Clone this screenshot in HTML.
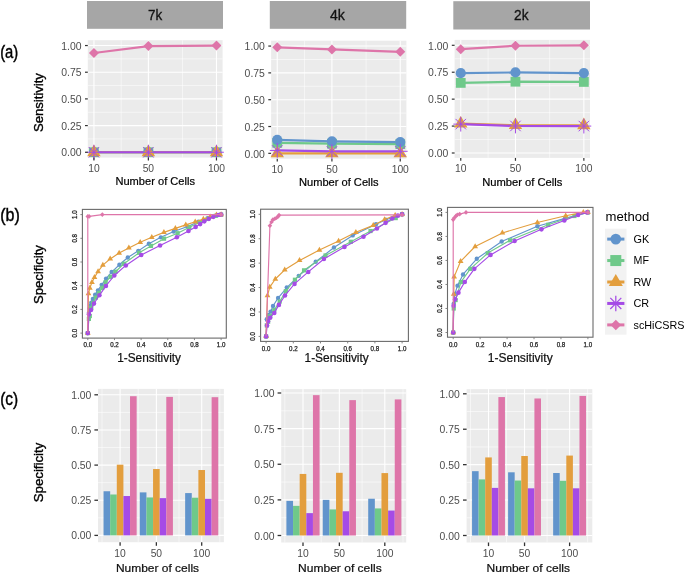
<!DOCTYPE html><html><head><meta charset="utf-8"><style>html,body{margin:0;padding:0;background:#fff;}svg{display:block;will-change:transform;}</style></head><body><svg width="685" height="574" viewBox="0 0 685 574" font-family='"Liberation Sans", sans-serif'>
<rect width="685" height="574" fill="#fff"/>
<text x="0.2" y="57.5" font-size="17.5" fill="#000" text-anchor="start" textLength="18.1" lengthAdjust="spacingAndGlyphs" stroke="#000" stroke-width="0.4" >(a)</text>
<text x="0.2" y="221.1" font-size="17.5" fill="#000" text-anchor="start" textLength="19.6" lengthAdjust="spacingAndGlyphs" stroke="#000" stroke-width="0.4" >(b)</text>
<text x="0.2" y="405.2" font-size="17.5" fill="#000" text-anchor="start" textLength="18" lengthAdjust="spacingAndGlyphs" stroke="#000" stroke-width="0.4" >(c)</text>
<text transform="translate(42.7,132.1) rotate(-90)" font-size="12.4" fill="#000" text-anchor="start" textLength="59" lengthAdjust="spacingAndGlyphs" stroke="#000" stroke-width="0.35">Sensitivity</text>
<text transform="translate(43.4,304.1) rotate(-90)" font-size="12.4" fill="#000" text-anchor="start" textLength="59" lengthAdjust="spacingAndGlyphs" stroke="#000" stroke-width="0.35">Specificity</text>
<text transform="translate(43,502.3) rotate(-90)" font-size="12.4" fill="#000" text-anchor="start" textLength="59.6" lengthAdjust="spacingAndGlyphs" stroke="#000" stroke-width="0.35">Specificity</text>
<rect x="87" y="1" width="136" height="27.8" fill="#a6a6a6"/>
<text x="148.1" y="19.5" font-size="14" fill="#111" text-anchor="start" textLength="14.2" lengthAdjust="spacingAndGlyphs" stroke="#111" stroke-width="0.3" >7k</text>
<rect x="269.8" y="1" width="136.4" height="27.8" fill="#a6a6a6"/>
<text x="329.9" y="19.5" font-size="14" fill="#111" text-anchor="start" textLength="14.9" lengthAdjust="spacingAndGlyphs" stroke="#111" stroke-width="0.3" >4k</text>
<rect x="453.3" y="1.2" width="136.7" height="28.3" fill="#a6a6a6"/>
<text x="514.1" y="19.5" font-size="14" fill="#111" text-anchor="start" textLength="14.5" lengthAdjust="spacingAndGlyphs" stroke="#111" stroke-width="0.3" >2k</text>
<rect x="87.8" y="40.2" width="134.8" height="117.4" fill="#ebebeb"/>
<line x1="87.8" x2="222.6" y1="138.92" y2="138.92" stroke="#fff" stroke-width="0.55"/>
<line x1="87.8" x2="222.6" y1="112.24" y2="112.24" stroke="#fff" stroke-width="0.55"/>
<line x1="87.8" x2="222.6" y1="85.56" y2="85.56" stroke="#fff" stroke-width="0.55"/>
<line x1="87.8" x2="222.6" y1="58.88" y2="58.88" stroke="#fff" stroke-width="0.55"/>
<line y1="40.2" y2="157.6" x1="121.16" x2="121.16" stroke="#fff" stroke-width="0.55"/>
<line y1="40.2" y2="157.6" x1="182.43" x2="182.43" stroke="#fff" stroke-width="0.55"/>
<line x1="87.8" x2="222.6" y1="152.26" y2="152.26" stroke="#fff" stroke-width="1.1"/>
<line x1="87.8" x2="222.6" y1="125.58" y2="125.58" stroke="#fff" stroke-width="1.1"/>
<line x1="87.8" x2="222.6" y1="98.9" y2="98.9" stroke="#fff" stroke-width="1.1"/>
<line x1="87.8" x2="222.6" y1="72.22" y2="72.22" stroke="#fff" stroke-width="1.1"/>
<line x1="87.8" x2="222.6" y1="45.54" y2="45.54" stroke="#fff" stroke-width="1.1"/>
<line y1="40.2" y2="157.6" x1="93.93" x2="93.93" stroke="#fff" stroke-width="1.1"/>
<line y1="40.2" y2="157.6" x1="148.39" x2="148.39" stroke="#fff" stroke-width="1.1"/>
<line y1="40.2" y2="157.6" x1="216.47" x2="216.47" stroke="#fff" stroke-width="1.1"/>
<polyline points="93.93,152.26 148.39,152.26 216.47,152.26" fill="none" stroke="#6FC98A" stroke-width="2.2" stroke-linejoin="round"/>
<polyline points="93.93,152.26 148.39,152.26 216.47,152.26" fill="none" stroke="#6194CC" stroke-width="2.2" stroke-linejoin="round"/>
<polyline points="93.93,152.26 148.39,152.26 216.47,152.26" fill="none" stroke="#E39E3D" stroke-width="2.2" stroke-linejoin="round"/>
<polyline points="93.93,152.26 148.39,152.26 216.47,152.26" fill="none" stroke="#A54BE6" stroke-width="2.2" stroke-linejoin="round"/>
<polyline points="93.93,53.01 148.39,46.07 216.47,45.54" fill="none" stroke="#DE75A9" stroke-width="2.2" stroke-linejoin="round"/>
<rect x="89.03" y="147.36" width="9.8" height="9.8" fill="#6FC98A"/>
<rect x="143.49" y="147.36" width="9.8" height="9.8" fill="#6FC98A"/>
<rect x="211.57" y="147.36" width="9.8" height="9.8" fill="#6FC98A"/>
<circle cx="93.93" cy="152.26" r="5.1" fill="#6194CC"/>
<circle cx="148.39" cy="152.26" r="5.1" fill="#6194CC"/>
<circle cx="216.47" cy="152.26" r="5.1" fill="#6194CC"/>
<path d="M93.93 144.53L100.62 156.13L87.23 156.13Z" fill="#E39E3D"/>
<path d="M148.39 144.53L155.09 156.13L141.69 156.13Z" fill="#E39E3D"/>
<path d="M216.47 144.53L223.17 156.13L209.78 156.13Z" fill="#E39E3D"/>
<path d="M86.53 152.26H101.33M93.93 144.86V159.66M88.69 147.03L99.16 157.5M88.69 157.5L99.16 147.03" stroke="#A54BE6" stroke-width="1" fill="none"/>
<path d="M140.99 152.26H155.79M148.39 144.86V159.66M143.16 147.03L153.62 157.5M143.16 157.5L153.62 147.03" stroke="#A54BE6" stroke-width="1" fill="none"/>
<path d="M209.07 152.26H223.87M216.47 144.86V159.66M211.24 147.03L221.71 157.5M211.24 157.5L221.71 147.03" stroke="#A54BE6" stroke-width="1" fill="none"/>
<path d="M93.93 48.01L98.93 53.01L93.93 58.01L88.93 53.01Z" fill="#DE75A9"/>
<path d="M148.39 41.07L153.39 46.07L148.39 51.07L143.39 46.07Z" fill="#DE75A9"/>
<path d="M216.47 40.54L221.47 45.54L216.47 50.54L211.47 45.54Z" fill="#DE75A9"/>
<line x1="85" x2="87.8" y1="152.26" y2="152.26" stroke="#333333" stroke-width="1.2"/>
<text x="81.6" y="156.46" font-size="10.3" fill="#4d4d4d" text-anchor="end" textLength="20.3" lengthAdjust="spacingAndGlyphs" >0.00</text>
<line x1="85" x2="87.8" y1="125.58" y2="125.58" stroke="#333333" stroke-width="1.2"/>
<text x="81.6" y="129.78" font-size="10.3" fill="#4d4d4d" text-anchor="end" textLength="20.3" lengthAdjust="spacingAndGlyphs" >0.25</text>
<line x1="85" x2="87.8" y1="98.9" y2="98.9" stroke="#333333" stroke-width="1.2"/>
<text x="81.6" y="103.1" font-size="10.3" fill="#4d4d4d" text-anchor="end" textLength="20.3" lengthAdjust="spacingAndGlyphs" >0.50</text>
<line x1="85" x2="87.8" y1="72.22" y2="72.22" stroke="#333333" stroke-width="1.2"/>
<text x="81.6" y="76.42" font-size="10.3" fill="#4d4d4d" text-anchor="end" textLength="20.3" lengthAdjust="spacingAndGlyphs" >0.75</text>
<line x1="85" x2="87.8" y1="45.54" y2="45.54" stroke="#333333" stroke-width="1.2"/>
<text x="81.6" y="49.74" font-size="10.3" fill="#4d4d4d" text-anchor="end" textLength="20.3" lengthAdjust="spacingAndGlyphs" >1.00</text>
<line y1="157.6" y2="160.5" x1="93.93" x2="93.93" stroke="#333333" stroke-width="1.2"/>
<text x="93.93" y="171.9" font-size="10.3" fill="#4d4d4d" text-anchor="middle" >10</text>
<line y1="157.6" y2="160.5" x1="148.39" x2="148.39" stroke="#333333" stroke-width="1.2"/>
<text x="148.39" y="171.9" font-size="10.3" fill="#4d4d4d" text-anchor="middle" >50</text>
<line y1="157.6" y2="160.5" x1="216.47" x2="216.47" stroke="#333333" stroke-width="1.2"/>
<text x="216.47" y="171.9" font-size="10.3" fill="#4d4d4d" text-anchor="middle" >100</text>
<text x="155.2" y="184.9" font-size="11" fill="#000" text-anchor="middle" textLength="79.5" lengthAdjust="spacingAndGlyphs" stroke="#000" stroke-width="0.2" >Number of Cells</text>
<rect x="271.1" y="40.7" width="135.3" height="118" fill="#ebebeb"/>
<line x1="271.1" x2="406.4" y1="139.93" y2="139.93" stroke="#fff" stroke-width="0.55"/>
<line x1="271.1" x2="406.4" y1="113.11" y2="113.11" stroke="#fff" stroke-width="0.55"/>
<line x1="271.1" x2="406.4" y1="86.29" y2="86.29" stroke="#fff" stroke-width="0.55"/>
<line x1="271.1" x2="406.4" y1="59.47" y2="59.47" stroke="#fff" stroke-width="0.55"/>
<line y1="40.7" y2="158.7" x1="304.58" x2="304.58" stroke="#fff" stroke-width="0.55"/>
<line y1="40.7" y2="158.7" x1="366.08" x2="366.08" stroke="#fff" stroke-width="0.55"/>
<line x1="271.1" x2="406.4" y1="153.34" y2="153.34" stroke="#fff" stroke-width="1.1"/>
<line x1="271.1" x2="406.4" y1="126.52" y2="126.52" stroke="#fff" stroke-width="1.1"/>
<line x1="271.1" x2="406.4" y1="99.7" y2="99.7" stroke="#fff" stroke-width="1.1"/>
<line x1="271.1" x2="406.4" y1="72.88" y2="72.88" stroke="#fff" stroke-width="1.1"/>
<line x1="271.1" x2="406.4" y1="46.06" y2="46.06" stroke="#fff" stroke-width="1.1"/>
<line y1="40.7" y2="158.7" x1="277.25" x2="277.25" stroke="#fff" stroke-width="1.1"/>
<line y1="40.7" y2="158.7" x1="331.92" x2="331.92" stroke="#fff" stroke-width="1.1"/>
<line y1="40.7" y2="158.7" x1="400.25" x2="400.25" stroke="#fff" stroke-width="1.1"/>
<polyline points="277.25,142.82 331.92,143.68 400.25,144.11" fill="none" stroke="#6FC98A" stroke-width="2.2" stroke-linejoin="round"/>
<polyline points="277.25,139.93 331.92,141.32 400.25,142.07" fill="none" stroke="#6194CC" stroke-width="2.2" stroke-linejoin="round"/>
<polyline points="277.25,153.34 331.92,153.34 400.25,153.34" fill="none" stroke="#E39E3D" stroke-width="2.2" stroke-linejoin="round"/>
<polyline points="277.25,150.44 331.92,151.41 400.25,151.3" fill="none" stroke="#A54BE6" stroke-width="2.2" stroke-linejoin="round"/>
<polyline points="277.25,47.35 331.92,49.39 400.25,51.86" fill="none" stroke="#DE75A9" stroke-width="2.2" stroke-linejoin="round"/>
<rect x="272.35" y="137.92" width="9.8" height="9.8" fill="#6FC98A"/>
<rect x="327.02" y="138.78" width="9.8" height="9.8" fill="#6FC98A"/>
<rect x="395.35" y="139.21" width="9.8" height="9.8" fill="#6FC98A"/>
<circle cx="277.25" cy="139.93" r="5.1" fill="#6194CC"/>
<circle cx="331.92" cy="141.32" r="5.1" fill="#6194CC"/>
<circle cx="400.25" cy="142.07" r="5.1" fill="#6194CC"/>
<path d="M277.25 145.6L283.95 157.2L270.55 157.2Z" fill="#E39E3D"/>
<path d="M331.92 145.6L338.61 157.2L325.22 157.2Z" fill="#E39E3D"/>
<path d="M400.25 145.6L406.95 157.2L393.55 157.2Z" fill="#E39E3D"/>
<path d="M269.85 150.44H284.65M277.25 143.04V157.84M272.02 145.21L282.48 155.67M272.02 155.67L282.48 145.21" stroke="#A54BE6" stroke-width="1" fill="none"/>
<path d="M324.52 151.41H339.32M331.92 144.01V158.81M326.68 146.17L337.15 156.64M326.68 156.64L337.15 146.17" stroke="#A54BE6" stroke-width="1" fill="none"/>
<path d="M392.85 151.3H407.65M400.25 143.9V158.7M395.02 146.07L405.48 156.53M395.02 156.53L405.48 146.07" stroke="#A54BE6" stroke-width="1" fill="none"/>
<path d="M277.25 42.35L282.25 47.35L277.25 52.35L272.25 47.35Z" fill="#DE75A9"/>
<path d="M331.92 44.39L336.92 49.39L331.92 54.39L326.92 49.39Z" fill="#DE75A9"/>
<path d="M400.25 46.86L405.25 51.86L400.25 56.86L395.25 51.86Z" fill="#DE75A9"/>
<line x1="268.3" x2="271.1" y1="153.34" y2="153.34" stroke="#333333" stroke-width="1.2"/>
<text x="264.9" y="157.54" font-size="10.3" fill="#4d4d4d" text-anchor="end" textLength="20.3" lengthAdjust="spacingAndGlyphs" >0.00</text>
<line x1="268.3" x2="271.1" y1="126.52" y2="126.52" stroke="#333333" stroke-width="1.2"/>
<text x="264.9" y="130.72" font-size="10.3" fill="#4d4d4d" text-anchor="end" textLength="20.3" lengthAdjust="spacingAndGlyphs" >0.25</text>
<line x1="268.3" x2="271.1" y1="99.7" y2="99.7" stroke="#333333" stroke-width="1.2"/>
<text x="264.9" y="103.9" font-size="10.3" fill="#4d4d4d" text-anchor="end" textLength="20.3" lengthAdjust="spacingAndGlyphs" >0.50</text>
<line x1="268.3" x2="271.1" y1="72.88" y2="72.88" stroke="#333333" stroke-width="1.2"/>
<text x="264.9" y="77.08" font-size="10.3" fill="#4d4d4d" text-anchor="end" textLength="20.3" lengthAdjust="spacingAndGlyphs" >0.75</text>
<line x1="268.3" x2="271.1" y1="46.06" y2="46.06" stroke="#333333" stroke-width="1.2"/>
<text x="264.9" y="50.26" font-size="10.3" fill="#4d4d4d" text-anchor="end" textLength="20.3" lengthAdjust="spacingAndGlyphs" >1.00</text>
<line y1="158.7" y2="161.6" x1="277.25" x2="277.25" stroke="#333333" stroke-width="1.2"/>
<text x="277.25" y="173" font-size="10.3" fill="#4d4d4d" text-anchor="middle" >10</text>
<line y1="158.7" y2="161.6" x1="331.92" x2="331.92" stroke="#333333" stroke-width="1.2"/>
<text x="331.92" y="173" font-size="10.3" fill="#4d4d4d" text-anchor="middle" >50</text>
<line y1="158.7" y2="161.6" x1="400.25" x2="400.25" stroke="#333333" stroke-width="1.2"/>
<text x="400.25" y="173" font-size="10.3" fill="#4d4d4d" text-anchor="middle" >100</text>
<text x="338.75" y="185.9" font-size="11" fill="#000" text-anchor="middle" textLength="79.6" lengthAdjust="spacingAndGlyphs" stroke="#000" stroke-width="0.2" >Number of Cells</text>
<rect x="454.6" y="39.9" width="135.4" height="118" fill="#ebebeb"/>
<line x1="454.6" x2="590" y1="139.54" y2="139.54" stroke="#fff" stroke-width="0.55"/>
<line x1="454.6" x2="590" y1="112.61" y2="112.61" stroke="#fff" stroke-width="0.55"/>
<line x1="454.6" x2="590" y1="85.69" y2="85.69" stroke="#fff" stroke-width="0.55"/>
<line x1="454.6" x2="590" y1="58.76" y2="58.76" stroke="#fff" stroke-width="0.55"/>
<line y1="39.9" y2="157.9" x1="488.11" x2="488.11" stroke="#fff" stroke-width="0.55"/>
<line y1="39.9" y2="157.9" x1="549.65" x2="549.65" stroke="#fff" stroke-width="0.55"/>
<line x1="454.6" x2="590" y1="153" y2="153" stroke="#fff" stroke-width="1.1"/>
<line x1="454.6" x2="590" y1="126.08" y2="126.08" stroke="#fff" stroke-width="1.1"/>
<line x1="454.6" x2="590" y1="99.15" y2="99.15" stroke="#fff" stroke-width="1.1"/>
<line x1="454.6" x2="590" y1="72.22" y2="72.22" stroke="#fff" stroke-width="1.1"/>
<line x1="454.6" x2="590" y1="45.3" y2="45.3" stroke="#fff" stroke-width="1.1"/>
<line y1="39.9" y2="157.9" x1="460.75" x2="460.75" stroke="#fff" stroke-width="1.1"/>
<line y1="39.9" y2="157.9" x1="515.46" x2="515.46" stroke="#fff" stroke-width="1.1"/>
<line y1="39.9" y2="157.9" x1="583.85" x2="583.85" stroke="#fff" stroke-width="1.1"/>
<polyline points="460.75,82.89 515.46,81.7 583.85,81.92" fill="none" stroke="#6FC98A" stroke-width="2.2" stroke-linejoin="round"/>
<polyline points="460.75,73.09 515.46,72.44 583.85,73.09" fill="none" stroke="#6194CC" stroke-width="2.2" stroke-linejoin="round"/>
<polyline points="460.75,123.71 515.46,125.21 583.85,125.32" fill="none" stroke="#E39E3D" stroke-width="2.2" stroke-linejoin="round"/>
<polyline points="460.75,124.14 515.46,125.97 583.85,126.08" fill="none" stroke="#A54BE6" stroke-width="2.2" stroke-linejoin="round"/>
<polyline points="460.75,49.18 515.46,45.73 583.85,45.3" fill="none" stroke="#DE75A9" stroke-width="2.2" stroke-linejoin="round"/>
<rect x="455.85" y="77.99" width="9.8" height="9.8" fill="#6FC98A"/>
<rect x="510.56" y="76.8" width="9.8" height="9.8" fill="#6FC98A"/>
<rect x="578.95" y="77.02" width="9.8" height="9.8" fill="#6FC98A"/>
<circle cx="460.75" cy="73.09" r="5.1" fill="#6194CC"/>
<circle cx="515.46" cy="72.44" r="5.1" fill="#6194CC"/>
<circle cx="583.85" cy="73.09" r="5.1" fill="#6194CC"/>
<path d="M460.75 115.97L467.45 127.57L454.06 127.57Z" fill="#E39E3D"/>
<path d="M515.46 117.48L522.16 129.08L508.76 129.08Z" fill="#E39E3D"/>
<path d="M583.85 117.59L590.54 129.19L577.15 129.19Z" fill="#E39E3D"/>
<path d="M453.35 124.14H468.15M460.75 116.74V131.54M455.52 118.9L465.99 129.37M455.52 129.37L465.99 118.9" stroke="#A54BE6" stroke-width="1" fill="none"/>
<path d="M508.06 125.97H522.86M515.46 118.57V133.37M510.23 120.73L520.69 131.2M510.23 131.2L520.69 120.73" stroke="#A54BE6" stroke-width="1" fill="none"/>
<path d="M576.45 126.08H591.25M583.85 118.67V133.47M578.61 120.84L589.08 131.31M578.61 131.31L589.08 120.84" stroke="#A54BE6" stroke-width="1" fill="none"/>
<path d="M460.75 44.18L465.75 49.18L460.75 54.18L455.75 49.18Z" fill="#DE75A9"/>
<path d="M515.46 40.73L520.46 45.73L515.46 50.73L510.46 45.73Z" fill="#DE75A9"/>
<path d="M583.85 40.3L588.85 45.3L583.85 50.3L578.85 45.3Z" fill="#DE75A9"/>
<line x1="451.8" x2="454.6" y1="153" y2="153" stroke="#333333" stroke-width="1.2"/>
<text x="448.4" y="157.2" font-size="10.3" fill="#4d4d4d" text-anchor="end" textLength="20.3" lengthAdjust="spacingAndGlyphs" >0.00</text>
<line x1="451.8" x2="454.6" y1="126.08" y2="126.08" stroke="#333333" stroke-width="1.2"/>
<text x="448.4" y="130.28" font-size="10.3" fill="#4d4d4d" text-anchor="end" textLength="20.3" lengthAdjust="spacingAndGlyphs" >0.25</text>
<line x1="451.8" x2="454.6" y1="99.15" y2="99.15" stroke="#333333" stroke-width="1.2"/>
<text x="448.4" y="103.35" font-size="10.3" fill="#4d4d4d" text-anchor="end" textLength="20.3" lengthAdjust="spacingAndGlyphs" >0.50</text>
<line x1="451.8" x2="454.6" y1="72.22" y2="72.22" stroke="#333333" stroke-width="1.2"/>
<text x="448.4" y="76.42" font-size="10.3" fill="#4d4d4d" text-anchor="end" textLength="20.3" lengthAdjust="spacingAndGlyphs" >0.75</text>
<line x1="451.8" x2="454.6" y1="45.3" y2="45.3" stroke="#333333" stroke-width="1.2"/>
<text x="448.4" y="49.5" font-size="10.3" fill="#4d4d4d" text-anchor="end" textLength="20.3" lengthAdjust="spacingAndGlyphs" >1.00</text>
<line y1="157.9" y2="160.8" x1="460.75" x2="460.75" stroke="#333333" stroke-width="1.2"/>
<text x="460.75" y="172.2" font-size="10.3" fill="#4d4d4d" text-anchor="middle" >10</text>
<line y1="157.9" y2="160.8" x1="515.46" x2="515.46" stroke="#333333" stroke-width="1.2"/>
<text x="515.46" y="172.2" font-size="10.3" fill="#4d4d4d" text-anchor="middle" >50</text>
<line y1="157.9" y2="160.8" x1="583.85" x2="583.85" stroke="#333333" stroke-width="1.2"/>
<text x="583.85" y="172.2" font-size="10.3" fill="#4d4d4d" text-anchor="middle" >100</text>
<text x="522.3" y="185.6" font-size="11" fill="#000" text-anchor="middle" textLength="80.2" lengthAdjust="spacingAndGlyphs" stroke="#000" stroke-width="0.2" >Number of Cells</text>
<polyline points="87.8,333.1 88.87,312.96 89.67,308.81 90.47,305.61 91.27,302.76 92.87,298.97 95.13,294.71 97.93,290.44 101.66,284.87 106.06,278.59 111.66,272.07 119.39,264.73 127.79,257.5 138.32,250.86 148.85,243.75 160.85,237.35 173.78,231.43 187.64,226.45 198.44,221.71 207.77,218.16 215.77,215.78 221.1,214.6" fill="none" stroke="#6194CC" stroke-width="1.15" stroke-linejoin="round"/>
<circle cx="87.8" cy="333.1" r="2.2" fill="#6194CC"/>
<circle cx="88.87" cy="312.96" r="2.2" fill="#6194CC"/>
<circle cx="89.67" cy="308.81" r="2.2" fill="#6194CC"/>
<circle cx="90.47" cy="305.61" r="2.2" fill="#6194CC"/>
<circle cx="91.27" cy="302.76" r="2.2" fill="#6194CC"/>
<circle cx="92.87" cy="298.97" r="2.2" fill="#6194CC"/>
<circle cx="95.13" cy="294.71" r="2.2" fill="#6194CC"/>
<circle cx="97.93" cy="290.44" r="2.2" fill="#6194CC"/>
<circle cx="101.66" cy="284.87" r="2.2" fill="#6194CC"/>
<circle cx="106.06" cy="278.59" r="2.2" fill="#6194CC"/>
<circle cx="111.66" cy="272.07" r="2.2" fill="#6194CC"/>
<circle cx="119.39" cy="264.73" r="2.2" fill="#6194CC"/>
<circle cx="127.79" cy="257.5" r="2.2" fill="#6194CC"/>
<circle cx="138.32" cy="250.86" r="2.2" fill="#6194CC"/>
<circle cx="148.85" cy="243.75" r="2.2" fill="#6194CC"/>
<circle cx="160.85" cy="237.35" r="2.2" fill="#6194CC"/>
<circle cx="173.78" cy="231.43" r="2.2" fill="#6194CC"/>
<circle cx="187.64" cy="226.45" r="2.2" fill="#6194CC"/>
<circle cx="198.44" cy="221.71" r="2.2" fill="#6194CC"/>
<circle cx="207.77" cy="218.16" r="2.2" fill="#6194CC"/>
<circle cx="215.77" cy="215.78" r="2.2" fill="#6194CC"/>
<circle cx="221.1" cy="214.6" r="2.2" fill="#6194CC"/>
<polyline points="87.8,333.1 88.87,318.88 89.8,316.04 91.27,307.86 93.13,302.88 95.93,297.55 98.86,292.81 102.2,287.83 105.66,282.14 110.46,276.81 115.53,271.72 123.79,263.78 139.12,252.76 150.98,245.88 164.05,238.66 177.64,233.2 189.37,227.16 199.77,222.3 207.77,218.75 215.77,215.78 221.1,214.6" fill="none" stroke="#6FC98A" stroke-width="1.15" stroke-linejoin="round"/>
<rect x="85.7" y="331" width="4.2" height="4.2" fill="#6FC98A"/>
<rect x="86.77" y="316.78" width="4.2" height="4.2" fill="#6FC98A"/>
<rect x="87.7" y="313.94" width="4.2" height="4.2" fill="#6FC98A"/>
<rect x="89.17" y="305.76" width="4.2" height="4.2" fill="#6FC98A"/>
<rect x="91.03" y="300.78" width="4.2" height="4.2" fill="#6FC98A"/>
<rect x="93.83" y="295.45" width="4.2" height="4.2" fill="#6FC98A"/>
<rect x="96.76" y="290.71" width="4.2" height="4.2" fill="#6FC98A"/>
<rect x="100.1" y="285.73" width="4.2" height="4.2" fill="#6FC98A"/>
<rect x="103.56" y="280.04" width="4.2" height="4.2" fill="#6FC98A"/>
<rect x="108.36" y="274.71" width="4.2" height="4.2" fill="#6FC98A"/>
<rect x="113.43" y="269.62" width="4.2" height="4.2" fill="#6FC98A"/>
<rect x="121.69" y="261.68" width="4.2" height="4.2" fill="#6FC98A"/>
<rect x="137.02" y="250.66" width="4.2" height="4.2" fill="#6FC98A"/>
<rect x="148.88" y="243.78" width="4.2" height="4.2" fill="#6FC98A"/>
<rect x="161.95" y="236.56" width="4.2" height="4.2" fill="#6FC98A"/>
<rect x="175.54" y="231.1" width="4.2" height="4.2" fill="#6FC98A"/>
<rect x="187.27" y="225.06" width="4.2" height="4.2" fill="#6FC98A"/>
<rect x="197.67" y="220.2" width="4.2" height="4.2" fill="#6FC98A"/>
<rect x="205.67" y="216.65" width="4.2" height="4.2" fill="#6FC98A"/>
<rect x="213.67" y="213.69" width="4.2" height="4.2" fill="#6FC98A"/>
<rect x="219" y="212.5" width="4.2" height="4.2" fill="#6FC98A"/>
<polyline points="87.8,333.1 88.47,293.64 89.8,288.19 91.93,282.38 94.47,277.41 98.06,271.48 102.86,265.08 110.19,258.92 119.13,252.99 128.86,247.9 140.19,242.21 151.78,237.23 163.91,232.38 175.38,228.35 185.78,224.91 195.24,221.71 203.37,218.98 210.17,216.85 216.43,214.96 221.1,214.6" fill="none" stroke="#E39E3D" stroke-width="1.15" stroke-linejoin="round"/>
<path d="M87.8 329.77L90.69 334.77L84.91 334.77Z" fill="#E39E3D"/>
<path d="M88.47 290.31L91.35 295.31L85.58 295.31Z" fill="#E39E3D"/>
<path d="M89.8 284.86L92.69 289.86L86.91 289.86Z" fill="#E39E3D"/>
<path d="M91.93 279.05L94.82 284.05L89.05 284.05Z" fill="#E39E3D"/>
<path d="M94.47 274.07L97.35 279.07L91.58 279.07Z" fill="#E39E3D"/>
<path d="M98.06 268.15L100.95 273.15L95.18 273.15Z" fill="#E39E3D"/>
<path d="M102.86 261.75L105.75 266.75L99.98 266.75Z" fill="#E39E3D"/>
<path d="M110.19 255.59L113.08 260.59L107.31 260.59Z" fill="#E39E3D"/>
<path d="M119.13 249.66L122.01 254.66L116.24 254.66Z" fill="#E39E3D"/>
<path d="M128.86 244.57L131.74 249.57L125.97 249.57Z" fill="#E39E3D"/>
<path d="M140.19 238.88L143.07 243.88L137.3 243.88Z" fill="#E39E3D"/>
<path d="M151.78 233.9L154.67 238.9L148.9 238.9Z" fill="#E39E3D"/>
<path d="M163.91 229.04L166.8 234.04L161.03 234.04Z" fill="#E39E3D"/>
<path d="M175.38 225.01L178.26 230.01L172.49 230.01Z" fill="#E39E3D"/>
<path d="M185.78 221.58L188.66 226.58L182.89 226.58Z" fill="#E39E3D"/>
<path d="M195.24 218.38L198.13 223.38L192.35 223.38Z" fill="#E39E3D"/>
<path d="M203.37 215.65L206.26 220.65L200.48 220.65Z" fill="#E39E3D"/>
<path d="M210.17 213.52L213.06 218.52L207.28 218.52Z" fill="#E39E3D"/>
<path d="M216.43 211.62L219.32 216.62L213.55 216.62Z" fill="#E39E3D"/>
<path d="M221.1 211.27L223.99 216.27L218.21 216.27Z" fill="#E39E3D"/>
<polyline points="87.8,333.1 89,314.26 91,309.99 93.93,303.59 99.4,295.3 105.93,285.94 114.33,275.51 125.79,265.44 141.25,255.01 160.05,245.53 176.84,237.23 188.44,231.07 195.64,226.92 200.17,224.08 204.3,221.35 208.84,218.87 213.37,216.85 218.17,214.96 221.1,214.6" fill="none" stroke="#A54BE6" stroke-width="1.15" stroke-linejoin="round"/>
<circle cx="87.8" cy="333.1" r="2.3" fill="#A54BE6"/>
<circle cx="89" cy="314.26" r="2.3" fill="#A54BE6"/>
<circle cx="91" cy="309.99" r="2.3" fill="#A54BE6"/>
<circle cx="93.93" cy="303.59" r="2.3" fill="#A54BE6"/>
<circle cx="99.4" cy="295.3" r="2.3" fill="#A54BE6"/>
<circle cx="105.93" cy="285.94" r="2.3" fill="#A54BE6"/>
<circle cx="114.33" cy="275.51" r="2.3" fill="#A54BE6"/>
<circle cx="125.79" cy="265.44" r="2.3" fill="#A54BE6"/>
<circle cx="141.25" cy="255.01" r="2.3" fill="#A54BE6"/>
<circle cx="160.05" cy="245.53" r="2.3" fill="#A54BE6"/>
<circle cx="176.84" cy="237.23" r="2.3" fill="#A54BE6"/>
<circle cx="188.44" cy="231.07" r="2.3" fill="#A54BE6"/>
<circle cx="195.64" cy="226.92" r="2.3" fill="#A54BE6"/>
<circle cx="200.17" cy="224.08" r="2.3" fill="#A54BE6"/>
<circle cx="204.3" cy="221.35" r="2.3" fill="#A54BE6"/>
<circle cx="208.84" cy="218.87" r="2.3" fill="#A54BE6"/>
<circle cx="213.37" cy="216.85" r="2.3" fill="#A54BE6"/>
<circle cx="218.17" cy="214.96" r="2.3" fill="#A54BE6"/>
<circle cx="221.1" cy="214.6" r="2.3" fill="#A54BE6"/>
<polyline points="87.8,333.1 87.8,216.38 89.13,216.38 102.33,214.6 221.1,214.6" fill="none" stroke="#DE75A9" stroke-width="1.15" stroke-linejoin="round"/>
<path d="M87.8 214.08L90.1 216.38L87.8 218.68L85.5 216.38Z" fill="#DE75A9"/>
<path d="M89.13 214.08L91.43 216.38L89.13 218.68L86.83 216.38Z" fill="#DE75A9"/>
<path d="M102.33 212.3L104.63 214.6L102.33 216.9L100.03 214.6Z" fill="#DE75A9"/>
<path d="M221.1 212.3L223.4 214.6L221.1 216.9L218.8 214.6Z" fill="#DE75A9"/>
<rect x="82.4" y="209.4" width="143.9" height="128.7" fill="none" stroke="#6a6a6a" stroke-width="1.1"/>
<line x1="87.8" x2="87.8" y1="338.1" y2="340.1" stroke="#777" stroke-width="0.9"/>
<text x="87.8" y="347.3" font-size="6.4" fill="#222" text-anchor="middle" textLength="8.6" lengthAdjust="spacingAndGlyphs" stroke="#222" stroke-width="0.25" >0.0</text>
<line x1="80.4" x2="82.4" y1="333.1" y2="333.1" stroke="#777" stroke-width="0.9"/>
<text transform="translate(76.8,333.1) rotate(-90)" font-size="6.6" fill="#222" text-anchor="middle" textLength="8.6" lengthAdjust="spacingAndGlyphs" stroke="#222" stroke-width="0.25">0.0</text>
<line x1="114.46" x2="114.46" y1="338.1" y2="340.1" stroke="#777" stroke-width="0.9"/>
<text x="114.46" y="347.3" font-size="6.4" fill="#222" text-anchor="middle" textLength="8.6" lengthAdjust="spacingAndGlyphs" stroke="#222" stroke-width="0.25" >0.2</text>
<line x1="80.4" x2="82.4" y1="309.4" y2="309.4" stroke="#777" stroke-width="0.9"/>
<text transform="translate(76.8,309.4) rotate(-90)" font-size="6.6" fill="#222" text-anchor="middle" textLength="8.6" lengthAdjust="spacingAndGlyphs" stroke="#222" stroke-width="0.25">0.2</text>
<line x1="141.12" x2="141.12" y1="338.1" y2="340.1" stroke="#777" stroke-width="0.9"/>
<text x="141.12" y="347.3" font-size="6.4" fill="#222" text-anchor="middle" textLength="8.6" lengthAdjust="spacingAndGlyphs" stroke="#222" stroke-width="0.25" >0.4</text>
<line x1="80.4" x2="82.4" y1="285.7" y2="285.7" stroke="#777" stroke-width="0.9"/>
<text transform="translate(76.8,285.7) rotate(-90)" font-size="6.6" fill="#222" text-anchor="middle" textLength="8.6" lengthAdjust="spacingAndGlyphs" stroke="#222" stroke-width="0.25">0.4</text>
<line x1="167.78" x2="167.78" y1="338.1" y2="340.1" stroke="#777" stroke-width="0.9"/>
<text x="167.78" y="347.3" font-size="6.4" fill="#222" text-anchor="middle" textLength="8.6" lengthAdjust="spacingAndGlyphs" stroke="#222" stroke-width="0.25" >0.6</text>
<line x1="80.4" x2="82.4" y1="262" y2="262" stroke="#777" stroke-width="0.9"/>
<text transform="translate(76.8,262) rotate(-90)" font-size="6.6" fill="#222" text-anchor="middle" textLength="8.6" lengthAdjust="spacingAndGlyphs" stroke="#222" stroke-width="0.25">0.6</text>
<line x1="194.44" x2="194.44" y1="338.1" y2="340.1" stroke="#777" stroke-width="0.9"/>
<text x="194.44" y="347.3" font-size="6.4" fill="#222" text-anchor="middle" textLength="8.6" lengthAdjust="spacingAndGlyphs" stroke="#222" stroke-width="0.25" >0.8</text>
<line x1="80.4" x2="82.4" y1="238.3" y2="238.3" stroke="#777" stroke-width="0.9"/>
<text transform="translate(76.8,238.3) rotate(-90)" font-size="6.6" fill="#222" text-anchor="middle" textLength="8.6" lengthAdjust="spacingAndGlyphs" stroke="#222" stroke-width="0.25">0.8</text>
<line x1="221.1" x2="221.1" y1="338.1" y2="340.1" stroke="#777" stroke-width="0.9"/>
<text x="221.1" y="347.3" font-size="6.4" fill="#222" text-anchor="middle" textLength="8.6" lengthAdjust="spacingAndGlyphs" stroke="#222" stroke-width="0.25" >1.0</text>
<line x1="80.4" x2="82.4" y1="214.6" y2="214.6" stroke="#777" stroke-width="0.9"/>
<text transform="translate(76.8,214.6) rotate(-90)" font-size="6.6" fill="#222" text-anchor="middle" textLength="8.6" lengthAdjust="spacingAndGlyphs" stroke="#222" stroke-width="0.25">1.0</text>
<text x="117.2" y="361.7" font-size="12.3" fill="#111" text-anchor="start" textLength="63.8" lengthAdjust="spacingAndGlyphs" stroke="#111" stroke-width="0.22" >1-Sensitivity</text>
<polyline points="266.1,336.4 266.78,319.31 268.55,315.03 270.59,311.61 273.04,306 278.07,298.06 286.77,287.56 298.74,275.84 315.74,261.8 333.96,247.51 352.73,235.42 375.99,224.31 385.78,219.79 402.1,214.3" fill="none" stroke="#6194CC" stroke-width="1.15" stroke-linejoin="round"/>
<circle cx="266.1" cy="336.4" r="2.2" fill="#6194CC"/>
<circle cx="266.78" cy="319.31" r="2.2" fill="#6194CC"/>
<circle cx="268.55" cy="315.03" r="2.2" fill="#6194CC"/>
<circle cx="270.59" cy="311.61" r="2.2" fill="#6194CC"/>
<circle cx="273.04" cy="306" r="2.2" fill="#6194CC"/>
<circle cx="278.07" cy="298.06" r="2.2" fill="#6194CC"/>
<circle cx="286.77" cy="287.56" r="2.2" fill="#6194CC"/>
<circle cx="298.74" cy="275.84" r="2.2" fill="#6194CC"/>
<circle cx="315.74" cy="261.8" r="2.2" fill="#6194CC"/>
<circle cx="333.96" cy="247.51" r="2.2" fill="#6194CC"/>
<circle cx="352.73" cy="235.42" r="2.2" fill="#6194CC"/>
<circle cx="375.99" cy="224.31" r="2.2" fill="#6194CC"/>
<circle cx="385.78" cy="219.79" r="2.2" fill="#6194CC"/>
<circle cx="402.1" cy="214.3" r="2.2" fill="#6194CC"/>
<polyline points="266.1,336.4 266.78,325.41 268.14,321.75 270.18,316.25 274.26,310.15 279.7,301.6 285.82,291.22 294.93,279.75 304.04,270.34 325.53,255.45 350.83,241.77 370.55,231.03 395.71,218.09 402.1,214.3" fill="none" stroke="#6FC98A" stroke-width="1.15" stroke-linejoin="round"/>
<rect x="264" y="334.3" width="4.2" height="4.2" fill="#6FC98A"/>
<rect x="264.68" y="323.31" width="4.2" height="4.2" fill="#6FC98A"/>
<rect x="266.04" y="319.65" width="4.2" height="4.2" fill="#6FC98A"/>
<rect x="268.08" y="314.15" width="4.2" height="4.2" fill="#6FC98A"/>
<rect x="272.16" y="308.05" width="4.2" height="4.2" fill="#6FC98A"/>
<rect x="277.6" y="299.5" width="4.2" height="4.2" fill="#6FC98A"/>
<rect x="283.72" y="289.12" width="4.2" height="4.2" fill="#6FC98A"/>
<rect x="292.83" y="277.65" width="4.2" height="4.2" fill="#6FC98A"/>
<rect x="301.94" y="268.24" width="4.2" height="4.2" fill="#6FC98A"/>
<rect x="323.43" y="253.35" width="4.2" height="4.2" fill="#6FC98A"/>
<rect x="348.73" y="239.67" width="4.2" height="4.2" fill="#6FC98A"/>
<rect x="368.45" y="228.93" width="4.2" height="4.2" fill="#6FC98A"/>
<rect x="393.61" y="215.99" width="4.2" height="4.2" fill="#6FC98A"/>
<rect x="400" y="212.2" width="4.2" height="4.2" fill="#6FC98A"/>
<polyline points="266.1,336.4 267.46,295.5 269.77,287.19 275.35,279.01 284.73,269.86 299.56,260.45 319.41,250.08 338.59,241.04 355.86,232.25 373.27,225.41 384.56,219.55 395.16,215.28 402.1,214.3" fill="none" stroke="#E39E3D" stroke-width="1.15" stroke-linejoin="round"/>
<path d="M266.1 333.07L268.99 338.07L263.21 338.07Z" fill="#E39E3D"/>
<path d="M267.46 292.16L270.35 297.16L264.57 297.16Z" fill="#E39E3D"/>
<path d="M269.77 283.86L272.66 288.86L266.89 288.86Z" fill="#E39E3D"/>
<path d="M275.35 275.68L278.23 280.68L272.46 280.68Z" fill="#E39E3D"/>
<path d="M284.73 266.52L287.62 271.52L281.85 271.52Z" fill="#E39E3D"/>
<path d="M299.56 257.12L302.44 262.12L296.67 262.12Z" fill="#E39E3D"/>
<path d="M319.41 246.74L322.3 251.74L316.53 251.74Z" fill="#E39E3D"/>
<path d="M338.59 237.71L341.47 242.71L335.7 242.71Z" fill="#E39E3D"/>
<path d="M355.86 228.92L358.75 233.92L352.97 233.92Z" fill="#E39E3D"/>
<path d="M373.27 222.08L376.15 227.08L370.38 227.08Z" fill="#E39E3D"/>
<path d="M384.56 216.22L387.44 221.22L381.67 221.22Z" fill="#E39E3D"/>
<path d="M395.16 211.94L398.05 216.94L392.28 216.94Z" fill="#E39E3D"/>
<path d="M402.1 210.97L404.99 215.97L399.21 215.97Z" fill="#E39E3D"/>
<polyline points="266.1,336.4 267.05,325.53 268,321.26 270.18,317.72 274.26,312.96 278.88,304.9 285,295.5 294.52,283.9 308.26,271.93 323.9,258.99 344.44,246.9 363.48,236.77 376.94,228.46 385.64,222.85 392.31,218.45 397.88,215.64 402.1,214.3" fill="none" stroke="#A54BE6" stroke-width="1.15" stroke-linejoin="round"/>
<circle cx="266.1" cy="336.4" r="2.3" fill="#A54BE6"/>
<circle cx="267.05" cy="325.53" r="2.3" fill="#A54BE6"/>
<circle cx="268" cy="321.26" r="2.3" fill="#A54BE6"/>
<circle cx="270.18" cy="317.72" r="2.3" fill="#A54BE6"/>
<circle cx="274.26" cy="312.96" r="2.3" fill="#A54BE6"/>
<circle cx="278.88" cy="304.9" r="2.3" fill="#A54BE6"/>
<circle cx="285" cy="295.5" r="2.3" fill="#A54BE6"/>
<circle cx="294.52" cy="283.9" r="2.3" fill="#A54BE6"/>
<circle cx="308.26" cy="271.93" r="2.3" fill="#A54BE6"/>
<circle cx="323.9" cy="258.99" r="2.3" fill="#A54BE6"/>
<circle cx="344.44" cy="246.9" r="2.3" fill="#A54BE6"/>
<circle cx="363.48" cy="236.77" r="2.3" fill="#A54BE6"/>
<circle cx="376.94" cy="228.46" r="2.3" fill="#A54BE6"/>
<circle cx="385.64" cy="222.85" r="2.3" fill="#A54BE6"/>
<circle cx="392.31" cy="218.45" r="2.3" fill="#A54BE6"/>
<circle cx="397.88" cy="215.64" r="2.3" fill="#A54BE6"/>
<circle cx="402.1" cy="214.3" r="2.3" fill="#A54BE6"/>
<polyline points="266.1,336.4 269.91,225.66 271.54,221.99 272.9,219.67 274.8,218.82 276.57,217.72 278.07,216.5 279.02,215.15 402.1,214.91" fill="none" stroke="#DE75A9" stroke-width="1.15" stroke-linejoin="round"/>
<path d="M269.91 223.36L272.21 225.66L269.91 227.96L267.61 225.66Z" fill="#DE75A9"/>
<path d="M271.54 219.69L273.84 221.99L271.54 224.29L269.24 221.99Z" fill="#DE75A9"/>
<path d="M272.9 217.37L275.2 219.67L272.9 221.97L270.6 219.67Z" fill="#DE75A9"/>
<path d="M274.8 216.52L277.1 218.82L274.8 221.12L272.5 218.82Z" fill="#DE75A9"/>
<path d="M276.57 215.42L278.87 217.72L276.57 220.02L274.27 217.72Z" fill="#DE75A9"/>
<path d="M278.07 214.2L280.37 216.5L278.07 218.8L275.77 216.5Z" fill="#DE75A9"/>
<path d="M279.02 212.85L281.32 215.15L279.02 217.45L276.72 215.15Z" fill="#DE75A9"/>
<path d="M402.1 212.61L404.4 214.91L402.1 217.21L399.8 214.91Z" fill="#DE75A9"/>
<rect x="260.6" y="209.2" width="147.8" height="132.2" fill="none" stroke="#6a6a6a" stroke-width="1.1"/>
<line x1="266.1" x2="266.1" y1="341.4" y2="343.4" stroke="#777" stroke-width="0.9"/>
<text x="266.1" y="351.1" font-size="6.4" fill="#222" text-anchor="middle" textLength="8.6" lengthAdjust="spacingAndGlyphs" stroke="#222" stroke-width="0.25" >0.0</text>
<line x1="258.6" x2="260.6" y1="336.4" y2="336.4" stroke="#777" stroke-width="0.9"/>
<text transform="translate(254.5,336.4) rotate(-90)" font-size="6.6" fill="#222" text-anchor="middle" textLength="8.6" lengthAdjust="spacingAndGlyphs" stroke="#222" stroke-width="0.25">0.0</text>
<line x1="293.3" x2="293.3" y1="341.4" y2="343.4" stroke="#777" stroke-width="0.9"/>
<text x="293.3" y="351.1" font-size="6.4" fill="#222" text-anchor="middle" textLength="8.6" lengthAdjust="spacingAndGlyphs" stroke="#222" stroke-width="0.25" >0.2</text>
<line x1="258.6" x2="260.6" y1="311.98" y2="311.98" stroke="#777" stroke-width="0.9"/>
<text transform="translate(254.5,311.98) rotate(-90)" font-size="6.6" fill="#222" text-anchor="middle" textLength="8.6" lengthAdjust="spacingAndGlyphs" stroke="#222" stroke-width="0.25">0.2</text>
<line x1="320.5" x2="320.5" y1="341.4" y2="343.4" stroke="#777" stroke-width="0.9"/>
<text x="320.5" y="351.1" font-size="6.4" fill="#222" text-anchor="middle" textLength="8.6" lengthAdjust="spacingAndGlyphs" stroke="#222" stroke-width="0.25" >0.4</text>
<line x1="258.6" x2="260.6" y1="287.56" y2="287.56" stroke="#777" stroke-width="0.9"/>
<text transform="translate(254.5,287.56) rotate(-90)" font-size="6.6" fill="#222" text-anchor="middle" textLength="8.6" lengthAdjust="spacingAndGlyphs" stroke="#222" stroke-width="0.25">0.4</text>
<line x1="347.7" x2="347.7" y1="341.4" y2="343.4" stroke="#777" stroke-width="0.9"/>
<text x="347.7" y="351.1" font-size="6.4" fill="#222" text-anchor="middle" textLength="8.6" lengthAdjust="spacingAndGlyphs" stroke="#222" stroke-width="0.25" >0.6</text>
<line x1="258.6" x2="260.6" y1="263.14" y2="263.14" stroke="#777" stroke-width="0.9"/>
<text transform="translate(254.5,263.14) rotate(-90)" font-size="6.6" fill="#222" text-anchor="middle" textLength="8.6" lengthAdjust="spacingAndGlyphs" stroke="#222" stroke-width="0.25">0.6</text>
<line x1="374.9" x2="374.9" y1="341.4" y2="343.4" stroke="#777" stroke-width="0.9"/>
<text x="374.9" y="351.1" font-size="6.4" fill="#222" text-anchor="middle" textLength="8.6" lengthAdjust="spacingAndGlyphs" stroke="#222" stroke-width="0.25" >0.8</text>
<line x1="258.6" x2="260.6" y1="238.72" y2="238.72" stroke="#777" stroke-width="0.9"/>
<text transform="translate(254.5,238.72) rotate(-90)" font-size="6.6" fill="#222" text-anchor="middle" textLength="8.6" lengthAdjust="spacingAndGlyphs" stroke="#222" stroke-width="0.25">0.8</text>
<line x1="402.1" x2="402.1" y1="341.4" y2="343.4" stroke="#777" stroke-width="0.9"/>
<text x="402.1" y="351.1" font-size="6.4" fill="#222" text-anchor="middle" textLength="8.6" lengthAdjust="spacingAndGlyphs" stroke="#222" stroke-width="0.25" >1.0</text>
<line x1="258.6" x2="260.6" y1="214.3" y2="214.3" stroke="#777" stroke-width="0.9"/>
<text transform="translate(254.5,214.3) rotate(-90)" font-size="6.6" fill="#222" text-anchor="middle" textLength="8.6" lengthAdjust="spacingAndGlyphs" stroke="#222" stroke-width="0.25">1.0</text>
<text x="304.5" y="361.7" font-size="12.3" fill="#111" text-anchor="start" textLength="64.3" lengthAdjust="spacingAndGlyphs" stroke="#111" stroke-width="0.22" >1-Sensitivity</text>
<polyline points="453.2,332.5 453.74,303.68 454.82,294.07 457.51,285.66 463.03,274.49 476.77,258.76 501.69,241.46 537.39,226.21 565,218.41 587.9,212.4" fill="none" stroke="#6194CC" stroke-width="1.15" stroke-linejoin="round"/>
<circle cx="453.2" cy="332.5" r="2.2" fill="#6194CC"/>
<circle cx="453.74" cy="303.68" r="2.2" fill="#6194CC"/>
<circle cx="454.82" cy="294.07" r="2.2" fill="#6194CC"/>
<circle cx="457.51" cy="285.66" r="2.2" fill="#6194CC"/>
<circle cx="463.03" cy="274.49" r="2.2" fill="#6194CC"/>
<circle cx="476.77" cy="258.76" r="2.2" fill="#6194CC"/>
<circle cx="501.69" cy="241.46" r="2.2" fill="#6194CC"/>
<circle cx="537.39" cy="226.21" r="2.2" fill="#6194CC"/>
<circle cx="565" cy="218.41" r="2.2" fill="#6194CC"/>
<circle cx="587.9" cy="212.4" r="2.2" fill="#6194CC"/>
<polyline points="453.2,332.5 453.74,308.48 455.62,300.07 460.88,282.06 470.31,268.85 487.82,253.11 510.04,240.26 548.16,224.77 574.43,216 587.9,212.4" fill="none" stroke="#6FC98A" stroke-width="1.15" stroke-linejoin="round"/>
<rect x="451.1" y="330.4" width="4.2" height="4.2" fill="#6FC98A"/>
<rect x="451.64" y="306.38" width="4.2" height="4.2" fill="#6FC98A"/>
<rect x="453.52" y="297.97" width="4.2" height="4.2" fill="#6FC98A"/>
<rect x="458.78" y="279.96" width="4.2" height="4.2" fill="#6FC98A"/>
<rect x="468.21" y="266.75" width="4.2" height="4.2" fill="#6FC98A"/>
<rect x="485.72" y="251.01" width="4.2" height="4.2" fill="#6FC98A"/>
<rect x="507.94" y="238.16" width="4.2" height="4.2" fill="#6FC98A"/>
<rect x="546.06" y="222.67" width="4.2" height="4.2" fill="#6FC98A"/>
<rect x="572.33" y="213.9" width="4.2" height="4.2" fill="#6FC98A"/>
<rect x="585.8" y="210.3" width="4.2" height="4.2" fill="#6FC98A"/>
<polyline points="453.2,332.5 453.74,294.07 454.14,276.89 460.61,261.28 475.16,246.51 502.37,232.94 537.39,222.49 565.67,215.76 583.32,212.4 587.9,212.4" fill="none" stroke="#E39E3D" stroke-width="1.15" stroke-linejoin="round"/>
<path d="M453.2 329.17L456.09 334.17L450.31 334.17Z" fill="#E39E3D"/>
<path d="M453.74 290.73L456.63 295.73L450.85 295.73Z" fill="#E39E3D"/>
<path d="M454.14 273.56L457.03 278.56L451.26 278.56Z" fill="#E39E3D"/>
<path d="M460.61 257.95L463.5 262.95L457.72 262.95Z" fill="#E39E3D"/>
<path d="M475.16 243.18L478.04 248.18L472.27 248.18Z" fill="#E39E3D"/>
<path d="M502.37 229.6L505.25 234.6L499.48 234.6Z" fill="#E39E3D"/>
<path d="M537.39 219.16L540.27 224.16L534.5 224.16Z" fill="#E39E3D"/>
<path d="M565.67 212.43L568.56 217.43L562.79 217.43Z" fill="#E39E3D"/>
<path d="M583.32 209.07L586.21 214.07L580.43 214.07Z" fill="#E39E3D"/>
<path d="M587.9 209.07L590.79 214.07L585.01 214.07Z" fill="#E39E3D"/>
<polyline points="453.2,332.5 453.6,305.72 455.09,299.35 458.45,292.63 464.78,282.06 474.35,268.85 490.51,254.92 514.62,240.98 541.43,229.33 564.33,220.45 578.07,215.04 587.23,212.4" fill="none" stroke="#A54BE6" stroke-width="1.15" stroke-linejoin="round"/>
<circle cx="453.2" cy="332.5" r="2.3" fill="#A54BE6"/>
<circle cx="453.6" cy="305.72" r="2.3" fill="#A54BE6"/>
<circle cx="455.09" cy="299.35" r="2.3" fill="#A54BE6"/>
<circle cx="458.45" cy="292.63" r="2.3" fill="#A54BE6"/>
<circle cx="464.78" cy="282.06" r="2.3" fill="#A54BE6"/>
<circle cx="474.35" cy="268.85" r="2.3" fill="#A54BE6"/>
<circle cx="490.51" cy="254.92" r="2.3" fill="#A54BE6"/>
<circle cx="514.62" cy="240.98" r="2.3" fill="#A54BE6"/>
<circle cx="541.43" cy="229.33" r="2.3" fill="#A54BE6"/>
<circle cx="564.33" cy="220.45" r="2.3" fill="#A54BE6"/>
<circle cx="578.07" cy="215.04" r="2.3" fill="#A54BE6"/>
<circle cx="587.23" cy="212.4" r="2.3" fill="#A54BE6"/>
<polyline points="453.2,332.5 453.2,219.61 454.41,217.8 456.03,215.88 457.38,214.68 459.67,214.08 466,212.4 587.9,212.4" fill="none" stroke="#DE75A9" stroke-width="1.15" stroke-linejoin="round"/>
<path d="M453.2 217.31L455.5 219.61L453.2 221.91L450.9 219.61Z" fill="#DE75A9"/>
<path d="M454.41 215.5L456.71 217.8L454.41 220.1L452.11 217.8Z" fill="#DE75A9"/>
<path d="M456.03 213.58L458.33 215.88L456.03 218.18L453.73 215.88Z" fill="#DE75A9"/>
<path d="M457.38 212.38L459.68 214.68L457.38 216.98L455.08 214.68Z" fill="#DE75A9"/>
<path d="M459.67 211.78L461.97 214.08L459.67 216.38L457.37 214.08Z" fill="#DE75A9"/>
<path d="M466 210.1L468.3 212.4L466 214.7L463.7 212.4Z" fill="#DE75A9"/>
<path d="M587.9 210.1L590.2 212.4L587.9 214.7L585.6 212.4Z" fill="#DE75A9"/>
<rect x="447.5" y="207.4" width="145.5" height="129.8" fill="none" stroke="#6a6a6a" stroke-width="1.1"/>
<line x1="453.2" x2="453.2" y1="337.2" y2="339.2" stroke="#777" stroke-width="0.9"/>
<text x="453.2" y="347" font-size="6.4" fill="#222" text-anchor="middle" textLength="8.6" lengthAdjust="spacingAndGlyphs" stroke="#222" stroke-width="0.25" >0.0</text>
<line x1="445.5" x2="447.5" y1="332.5" y2="332.5" stroke="#777" stroke-width="0.9"/>
<text transform="translate(442.1,332.5) rotate(-90)" font-size="6.6" fill="#222" text-anchor="middle" textLength="8.6" lengthAdjust="spacingAndGlyphs" stroke="#222" stroke-width="0.25">0.0</text>
<line x1="480.14" x2="480.14" y1="337.2" y2="339.2" stroke="#777" stroke-width="0.9"/>
<text x="480.14" y="347" font-size="6.4" fill="#222" text-anchor="middle" textLength="8.6" lengthAdjust="spacingAndGlyphs" stroke="#222" stroke-width="0.25" >0.2</text>
<line x1="445.5" x2="447.5" y1="308.48" y2="308.48" stroke="#777" stroke-width="0.9"/>
<text transform="translate(442.1,308.48) rotate(-90)" font-size="6.6" fill="#222" text-anchor="middle" textLength="8.6" lengthAdjust="spacingAndGlyphs" stroke="#222" stroke-width="0.25">0.2</text>
<line x1="507.08" x2="507.08" y1="337.2" y2="339.2" stroke="#777" stroke-width="0.9"/>
<text x="507.08" y="347" font-size="6.4" fill="#222" text-anchor="middle" textLength="8.6" lengthAdjust="spacingAndGlyphs" stroke="#222" stroke-width="0.25" >0.4</text>
<line x1="445.5" x2="447.5" y1="284.46" y2="284.46" stroke="#777" stroke-width="0.9"/>
<text transform="translate(442.1,284.46) rotate(-90)" font-size="6.6" fill="#222" text-anchor="middle" textLength="8.6" lengthAdjust="spacingAndGlyphs" stroke="#222" stroke-width="0.25">0.4</text>
<line x1="534.02" x2="534.02" y1="337.2" y2="339.2" stroke="#777" stroke-width="0.9"/>
<text x="534.02" y="347" font-size="6.4" fill="#222" text-anchor="middle" textLength="8.6" lengthAdjust="spacingAndGlyphs" stroke="#222" stroke-width="0.25" >0.6</text>
<line x1="445.5" x2="447.5" y1="260.44" y2="260.44" stroke="#777" stroke-width="0.9"/>
<text transform="translate(442.1,260.44) rotate(-90)" font-size="6.6" fill="#222" text-anchor="middle" textLength="8.6" lengthAdjust="spacingAndGlyphs" stroke="#222" stroke-width="0.25">0.6</text>
<line x1="560.96" x2="560.96" y1="337.2" y2="339.2" stroke="#777" stroke-width="0.9"/>
<text x="560.96" y="347" font-size="6.4" fill="#222" text-anchor="middle" textLength="8.6" lengthAdjust="spacingAndGlyphs" stroke="#222" stroke-width="0.25" >0.8</text>
<line x1="445.5" x2="447.5" y1="236.42" y2="236.42" stroke="#777" stroke-width="0.9"/>
<text transform="translate(442.1,236.42) rotate(-90)" font-size="6.6" fill="#222" text-anchor="middle" textLength="8.6" lengthAdjust="spacingAndGlyphs" stroke="#222" stroke-width="0.25">0.8</text>
<line x1="587.9" x2="587.9" y1="337.2" y2="339.2" stroke="#777" stroke-width="0.9"/>
<text x="587.9" y="347" font-size="6.4" fill="#222" text-anchor="middle" textLength="8.6" lengthAdjust="spacingAndGlyphs" stroke="#222" stroke-width="0.25" >1.0</text>
<line x1="445.5" x2="447.5" y1="212.4" y2="212.4" stroke="#777" stroke-width="0.9"/>
<text transform="translate(442.1,212.4) rotate(-90)" font-size="6.6" fill="#222" text-anchor="middle" textLength="8.6" lengthAdjust="spacingAndGlyphs" stroke="#222" stroke-width="0.25">1.0</text>
<text x="487.7" y="361.7" font-size="12.3" fill="#111" text-anchor="start" textLength="65" lengthAdjust="spacingAndGlyphs" stroke="#111" stroke-width="0.22" >1-Sensitivity</text>
<text x="605.6" y="220.8" font-size="12.5" fill="#000" text-anchor="start" textLength="43.8" lengthAdjust="spacingAndGlyphs" >method</text>
<rect x="605" y="228.7" width="21.5" height="106" fill="#f2f2f2"/>
<line x1="607.2" x2="624.4" y1="239.1" y2="239.1" stroke="#6194CC" stroke-width="3.0"/>
<circle cx="615.8" cy="239.1" r="5.35" fill="#6194CC"/>
<text x="633.5" y="242.8" font-size="10.4" fill="#000" text-anchor="start" textLength="15.7" lengthAdjust="spacingAndGlyphs" >GK</text>
<line x1="607.2" x2="624.4" y1="260.55" y2="260.55" stroke="#6FC98A" stroke-width="3.0"/>
<rect x="610.3" y="255.05" width="11" height="11" fill="#6FC98A"/>
<text x="633.5" y="264.25" font-size="10.4" fill="#000" text-anchor="start" textLength="15.4" lengthAdjust="spacingAndGlyphs" >MF</text>
<line x1="607.2" x2="624.4" y1="282" y2="282" stroke="#E39E3D" stroke-width="3.0"/>
<path d="M615.8 273.88L622.83 286.06L608.77 286.06Z" fill="#E39E3D"/>
<text x="633.5" y="285.7" font-size="10.4" fill="#000" text-anchor="start" textLength="17.8" lengthAdjust="spacingAndGlyphs" >RW</text>
<line x1="607.2" x2="624.4" y1="303.45" y2="303.45" stroke="#A54BE6" stroke-width="3.0"/>
<path d="M608 303.45H623.6M615.8 295.65V311.25M610.28 297.93L621.32 308.97M610.28 308.97L621.32 297.93" stroke="#A54BE6" stroke-width="1.25" fill="none"/>
<text x="633.5" y="307.15" font-size="10.4" fill="#000" text-anchor="start" textLength="15.7" lengthAdjust="spacingAndGlyphs" >CR</text>
<line x1="607.2" x2="624.4" y1="324.9" y2="324.9" stroke="#DE75A9" stroke-width="3.0"/>
<path d="M615.8 319.65L621.05 324.9L615.8 330.15L610.55 324.9Z" fill="#DE75A9"/>
<text x="633.5" y="328.6" font-size="10.4" fill="#000" text-anchor="start" textLength="51" lengthAdjust="spacingAndGlyphs" >scHiCSRS</text>
<rect x="98" y="388.9" width="125.9" height="153.3" fill="#ebebeb"/>
<line x1="98" x2="223.9" y1="517.82" y2="517.82" stroke="#fff" stroke-width="0.55"/>
<line x1="98" x2="223.9" y1="482.68" y2="482.68" stroke="#fff" stroke-width="0.55"/>
<line x1="98" x2="223.9" y1="447.52" y2="447.52" stroke="#fff" stroke-width="0.55"/>
<line x1="98" x2="223.9" y1="412.38" y2="412.38" stroke="#fff" stroke-width="0.55"/>
<line y1="388.9" y2="542.2" x1="101.97" x2="101.97" stroke="#fff" stroke-width="0.55"/>
<line y1="388.9" y2="542.2" x1="138.23" x2="138.23" stroke="#fff" stroke-width="0.55"/>
<line y1="388.9" y2="542.2" x1="179.03" x2="179.03" stroke="#fff" stroke-width="0.55"/>
<line y1="388.9" y2="542.2" x1="219.83" x2="219.83" stroke="#fff" stroke-width="0.55"/>
<line x1="98" x2="223.9" y1="535.4" y2="535.4" stroke="#fff" stroke-width="1.1"/>
<line x1="98" x2="223.9" y1="500.25" y2="500.25" stroke="#fff" stroke-width="1.1"/>
<line x1="98" x2="223.9" y1="465.1" y2="465.1" stroke="#fff" stroke-width="1.1"/>
<line x1="98" x2="223.9" y1="429.95" y2="429.95" stroke="#fff" stroke-width="1.1"/>
<line x1="98" x2="223.9" y1="394.8" y2="394.8" stroke="#fff" stroke-width="1.1"/>
<line y1="388.9" y2="542.2" x1="120.1" x2="120.1" stroke="#fff" stroke-width="1.1"/>
<line y1="388.9" y2="542.2" x1="156.37" x2="156.37" stroke="#fff" stroke-width="1.1"/>
<line y1="388.9" y2="542.2" x1="201.7" x2="201.7" stroke="#fff" stroke-width="1.1"/>
<rect x="103.55" y="491.25" width="6.62" height="44.15" fill="#6194CC"/>
<rect x="110.17" y="494.49" width="6.62" height="40.91" fill="#6FC98A"/>
<rect x="116.79" y="464.68" width="6.62" height="70.72" fill="#E39E3D"/>
<rect x="123.41" y="496.03" width="6.62" height="39.37" fill="#A54BE6"/>
<rect x="130.03" y="396.21" width="6.62" height="139.19" fill="#DE75A9"/>
<rect x="139.82" y="492.38" width="6.62" height="43.02" fill="#6194CC"/>
<rect x="146.44" y="497.44" width="6.62" height="37.96" fill="#6FC98A"/>
<rect x="153.06" y="469.04" width="6.62" height="66.36" fill="#E39E3D"/>
<rect x="159.68" y="498.14" width="6.62" height="37.26" fill="#A54BE6"/>
<rect x="166.29" y="396.91" width="6.62" height="138.49" fill="#DE75A9"/>
<rect x="185.15" y="493.08" width="6.62" height="42.32" fill="#6194CC"/>
<rect x="191.77" y="497.72" width="6.62" height="37.68" fill="#6FC98A"/>
<rect x="198.39" y="470.02" width="6.62" height="65.38" fill="#E39E3D"/>
<rect x="205.01" y="498.84" width="6.62" height="36.56" fill="#A54BE6"/>
<rect x="211.63" y="397.19" width="6.62" height="138.21" fill="#DE75A9"/>
<line x1="94.4" x2="98" y1="535.4" y2="535.4" stroke="#333333" stroke-width="1.3"/>
<text x="91.4" y="539.4" font-size="10.3" fill="#4d4d4d" text-anchor="end" textLength="20.2" lengthAdjust="spacingAndGlyphs" >0.00</text>
<line x1="94.4" x2="98" y1="500.25" y2="500.25" stroke="#333333" stroke-width="1.3"/>
<text x="91.4" y="504.25" font-size="10.3" fill="#4d4d4d" text-anchor="end" textLength="20.2" lengthAdjust="spacingAndGlyphs" >0.25</text>
<line x1="94.4" x2="98" y1="465.1" y2="465.1" stroke="#333333" stroke-width="1.3"/>
<text x="91.4" y="469.1" font-size="10.3" fill="#4d4d4d" text-anchor="end" textLength="20.2" lengthAdjust="spacingAndGlyphs" >0.50</text>
<line x1="94.4" x2="98" y1="429.95" y2="429.95" stroke="#333333" stroke-width="1.3"/>
<text x="91.4" y="433.95" font-size="10.3" fill="#4d4d4d" text-anchor="end" textLength="20.2" lengthAdjust="spacingAndGlyphs" >0.75</text>
<line x1="94.4" x2="98" y1="394.8" y2="394.8" stroke="#333333" stroke-width="1.3"/>
<text x="91.4" y="398.8" font-size="10.3" fill="#4d4d4d" text-anchor="end" textLength="20.2" lengthAdjust="spacingAndGlyphs" >1.00</text>
<line y1="542.2" y2="545.8" x1="120.1" x2="120.1" stroke="#333333" stroke-width="1.3"/>
<text x="120.1" y="556.8" font-size="10.3" fill="#4d4d4d" text-anchor="middle" >10</text>
<line y1="542.2" y2="545.8" x1="156.37" x2="156.37" stroke="#333333" stroke-width="1.3"/>
<text x="156.37" y="556.8" font-size="10.3" fill="#4d4d4d" text-anchor="middle" >50</text>
<line y1="542.2" y2="545.8" x1="201.7" x2="201.7" stroke="#333333" stroke-width="1.3"/>
<text x="201.7" y="556.8" font-size="10.3" fill="#4d4d4d" text-anchor="middle" >100</text>
<text x="115.9" y="572.1" font-size="11.7" fill="#111" text-anchor="start" textLength="83.2" lengthAdjust="spacingAndGlyphs" stroke="#111" stroke-width="0.22" >Number of cells</text>
<rect x="281.2" y="389.1" width="125" height="153.4" fill="#ebebeb"/>
<line x1="281.2" x2="406.2" y1="517.69" y2="517.69" stroke="#fff" stroke-width="0.55"/>
<line x1="281.2" x2="406.2" y1="482.06" y2="482.06" stroke="#fff" stroke-width="0.55"/>
<line x1="281.2" x2="406.2" y1="446.44" y2="446.44" stroke="#fff" stroke-width="0.55"/>
<line x1="281.2" x2="406.2" y1="410.81" y2="410.81" stroke="#fff" stroke-width="0.55"/>
<line y1="389.1" y2="542.5" x1="284.82" x2="284.82" stroke="#fff" stroke-width="0.55"/>
<line y1="389.1" y2="542.5" x1="321.18" x2="321.18" stroke="#fff" stroke-width="0.55"/>
<line y1="389.1" y2="542.5" x1="362.08" x2="362.08" stroke="#fff" stroke-width="0.55"/>
<line y1="389.1" y2="542.5" x1="402.98" x2="402.98" stroke="#fff" stroke-width="0.55"/>
<line x1="281.2" x2="406.2" y1="535.5" y2="535.5" stroke="#fff" stroke-width="1.1"/>
<line x1="281.2" x2="406.2" y1="499.88" y2="499.88" stroke="#fff" stroke-width="1.1"/>
<line x1="281.2" x2="406.2" y1="464.25" y2="464.25" stroke="#fff" stroke-width="1.1"/>
<line x1="281.2" x2="406.2" y1="428.62" y2="428.62" stroke="#fff" stroke-width="1.1"/>
<line x1="281.2" x2="406.2" y1="393" y2="393" stroke="#fff" stroke-width="1.1"/>
<line y1="389.1" y2="542.5" x1="303" x2="303" stroke="#fff" stroke-width="1.1"/>
<line y1="389.1" y2="542.5" x1="339.36" x2="339.36" stroke="#fff" stroke-width="1.1"/>
<line y1="389.1" y2="542.5" x1="384.8" x2="384.8" stroke="#fff" stroke-width="1.1"/>
<rect x="286.41" y="500.87" width="6.63" height="34.63" fill="#6194CC"/>
<rect x="293.05" y="505.86" width="6.63" height="29.64" fill="#6FC98A"/>
<rect x="299.68" y="473.94" width="6.63" height="61.56" fill="#E39E3D"/>
<rect x="306.32" y="513.13" width="6.63" height="22.37" fill="#A54BE6"/>
<rect x="312.95" y="395.14" width="6.63" height="140.36" fill="#DE75A9"/>
<rect x="322.77" y="499.88" width="6.63" height="35.62" fill="#6194CC"/>
<rect x="329.4" y="509.42" width="6.63" height="26.08" fill="#6FC98A"/>
<rect x="336.04" y="472.8" width="6.63" height="62.7" fill="#E39E3D"/>
<rect x="342.67" y="511.27" width="6.63" height="24.23" fill="#A54BE6"/>
<rect x="349.31" y="400.12" width="6.63" height="135.38" fill="#DE75A9"/>
<rect x="368.21" y="498.74" width="6.63" height="36.76" fill="#6194CC"/>
<rect x="374.85" y="508.43" width="6.63" height="27.07" fill="#6FC98A"/>
<rect x="381.48" y="473.08" width="6.63" height="62.42" fill="#E39E3D"/>
<rect x="388.12" y="510.56" width="6.63" height="24.94" fill="#A54BE6"/>
<rect x="394.75" y="399.41" width="6.63" height="136.09" fill="#DE75A9"/>
<line x1="277.6" x2="281.2" y1="535.5" y2="535.5" stroke="#333333" stroke-width="1.3"/>
<text x="274.5" y="539.5" font-size="10.3" fill="#4d4d4d" text-anchor="end" textLength="20.2" lengthAdjust="spacingAndGlyphs" >0.00</text>
<line x1="277.6" x2="281.2" y1="499.88" y2="499.88" stroke="#333333" stroke-width="1.3"/>
<text x="274.5" y="503.88" font-size="10.3" fill="#4d4d4d" text-anchor="end" textLength="20.2" lengthAdjust="spacingAndGlyphs" >0.25</text>
<line x1="277.6" x2="281.2" y1="464.25" y2="464.25" stroke="#333333" stroke-width="1.3"/>
<text x="274.5" y="468.25" font-size="10.3" fill="#4d4d4d" text-anchor="end" textLength="20.2" lengthAdjust="spacingAndGlyphs" >0.50</text>
<line x1="277.6" x2="281.2" y1="428.62" y2="428.62" stroke="#333333" stroke-width="1.3"/>
<text x="274.5" y="432.62" font-size="10.3" fill="#4d4d4d" text-anchor="end" textLength="20.2" lengthAdjust="spacingAndGlyphs" >0.75</text>
<line x1="277.6" x2="281.2" y1="393" y2="393" stroke="#333333" stroke-width="1.3"/>
<text x="274.5" y="397" font-size="10.3" fill="#4d4d4d" text-anchor="end" textLength="20.2" lengthAdjust="spacingAndGlyphs" >1.00</text>
<line y1="542.5" y2="546.1" x1="303" x2="303" stroke="#333333" stroke-width="1.3"/>
<text x="303" y="556.8" font-size="10.3" fill="#4d4d4d" text-anchor="middle" >10</text>
<line y1="542.5" y2="546.1" x1="339.36" x2="339.36" stroke="#333333" stroke-width="1.3"/>
<text x="339.36" y="556.8" font-size="10.3" fill="#4d4d4d" text-anchor="middle" >50</text>
<line y1="542.5" y2="546.1" x1="384.8" x2="384.8" stroke="#333333" stroke-width="1.3"/>
<text x="384.8" y="556.8" font-size="10.3" fill="#4d4d4d" text-anchor="middle" >100</text>
<text x="298" y="572.1" font-size="11.7" fill="#111" text-anchor="start" textLength="83.7" lengthAdjust="spacingAndGlyphs" stroke="#111" stroke-width="0.22" >Number of cells</text>
<rect x="466.6" y="389.1" width="125.7" height="153.4" fill="#ebebeb"/>
<line x1="466.6" x2="592.3" y1="517.79" y2="517.79" stroke="#fff" stroke-width="0.55"/>
<line x1="466.6" x2="592.3" y1="482.36" y2="482.36" stroke="#fff" stroke-width="0.55"/>
<line x1="466.6" x2="592.3" y1="446.94" y2="446.94" stroke="#fff" stroke-width="0.55"/>
<line x1="466.6" x2="592.3" y1="411.51" y2="411.51" stroke="#fff" stroke-width="0.55"/>
<line y1="389.1" y2="542.5" x1="470.48" x2="470.48" stroke="#fff" stroke-width="0.55"/>
<line y1="389.1" y2="542.5" x1="506.52" x2="506.52" stroke="#fff" stroke-width="0.55"/>
<line y1="389.1" y2="542.5" x1="547.07" x2="547.07" stroke="#fff" stroke-width="0.55"/>
<line y1="389.1" y2="542.5" x1="587.62" x2="587.62" stroke="#fff" stroke-width="0.55"/>
<line x1="466.6" x2="592.3" y1="535.5" y2="535.5" stroke="#fff" stroke-width="1.1"/>
<line x1="466.6" x2="592.3" y1="500.07" y2="500.07" stroke="#fff" stroke-width="1.1"/>
<line x1="466.6" x2="592.3" y1="464.65" y2="464.65" stroke="#fff" stroke-width="1.1"/>
<line x1="466.6" x2="592.3" y1="429.23" y2="429.23" stroke="#fff" stroke-width="1.1"/>
<line x1="466.6" x2="592.3" y1="393.8" y2="393.8" stroke="#fff" stroke-width="1.1"/>
<line y1="389.1" y2="542.5" x1="488.5" x2="488.5" stroke="#fff" stroke-width="1.1"/>
<line y1="389.1" y2="542.5" x1="524.54" x2="524.54" stroke="#fff" stroke-width="1.1"/>
<line y1="389.1" y2="542.5" x1="569.6" x2="569.6" stroke="#fff" stroke-width="1.1"/>
<rect x="472.05" y="471.17" width="6.58" height="64.33" fill="#6194CC"/>
<rect x="478.63" y="479.39" width="6.58" height="56.11" fill="#6FC98A"/>
<rect x="485.21" y="457.42" width="6.58" height="78.08" fill="#E39E3D"/>
<rect x="491.79" y="487.89" width="6.58" height="47.61" fill="#A54BE6"/>
<rect x="498.37" y="397.06" width="6.58" height="138.44" fill="#DE75A9"/>
<rect x="508.1" y="472.3" width="6.58" height="63.2" fill="#6194CC"/>
<rect x="514.68" y="480.52" width="6.58" height="54.98" fill="#6FC98A"/>
<rect x="521.26" y="456.01" width="6.58" height="79.49" fill="#E39E3D"/>
<rect x="527.83" y="488.31" width="6.58" height="47.19" fill="#A54BE6"/>
<rect x="534.41" y="398.48" width="6.58" height="137.02" fill="#DE75A9"/>
<rect x="553.15" y="473.01" width="6.58" height="62.49" fill="#6194CC"/>
<rect x="559.73" y="480.8" width="6.58" height="54.7" fill="#6FC98A"/>
<rect x="566.31" y="455.58" width="6.58" height="79.92" fill="#E39E3D"/>
<rect x="572.89" y="488.31" width="6.58" height="47.19" fill="#A54BE6"/>
<rect x="579.47" y="395.93" width="6.58" height="139.57" fill="#DE75A9"/>
<line x1="463" x2="466.6" y1="535.5" y2="535.5" stroke="#333333" stroke-width="1.3"/>
<text x="459.8" y="539.5" font-size="10.3" fill="#4d4d4d" text-anchor="end" textLength="20.2" lengthAdjust="spacingAndGlyphs" >0.00</text>
<line x1="463" x2="466.6" y1="500.07" y2="500.07" stroke="#333333" stroke-width="1.3"/>
<text x="459.8" y="504.07" font-size="10.3" fill="#4d4d4d" text-anchor="end" textLength="20.2" lengthAdjust="spacingAndGlyphs" >0.25</text>
<line x1="463" x2="466.6" y1="464.65" y2="464.65" stroke="#333333" stroke-width="1.3"/>
<text x="459.8" y="468.65" font-size="10.3" fill="#4d4d4d" text-anchor="end" textLength="20.2" lengthAdjust="spacingAndGlyphs" >0.50</text>
<line x1="463" x2="466.6" y1="429.23" y2="429.23" stroke="#333333" stroke-width="1.3"/>
<text x="459.8" y="433.23" font-size="10.3" fill="#4d4d4d" text-anchor="end" textLength="20.2" lengthAdjust="spacingAndGlyphs" >0.75</text>
<line x1="463" x2="466.6" y1="393.8" y2="393.8" stroke="#333333" stroke-width="1.3"/>
<text x="459.8" y="397.8" font-size="10.3" fill="#4d4d4d" text-anchor="end" textLength="20.2" lengthAdjust="spacingAndGlyphs" >1.00</text>
<line y1="542.5" y2="546.1" x1="488.5" x2="488.5" stroke="#333333" stroke-width="1.3"/>
<text x="488.5" y="556.8" font-size="10.3" fill="#4d4d4d" text-anchor="middle" >10</text>
<line y1="542.5" y2="546.1" x1="524.54" x2="524.54" stroke="#333333" stroke-width="1.3"/>
<text x="524.54" y="556.8" font-size="10.3" fill="#4d4d4d" text-anchor="middle" >50</text>
<line y1="542.5" y2="546.1" x1="569.6" x2="569.6" stroke="#333333" stroke-width="1.3"/>
<text x="569.6" y="556.8" font-size="10.3" fill="#4d4d4d" text-anchor="middle" >100</text>
<text x="486.6" y="572.1" font-size="11.7" fill="#111" text-anchor="start" textLength="83.4" lengthAdjust="spacingAndGlyphs" stroke="#111" stroke-width="0.22" >Number of cells</text>
</svg></body></html>
